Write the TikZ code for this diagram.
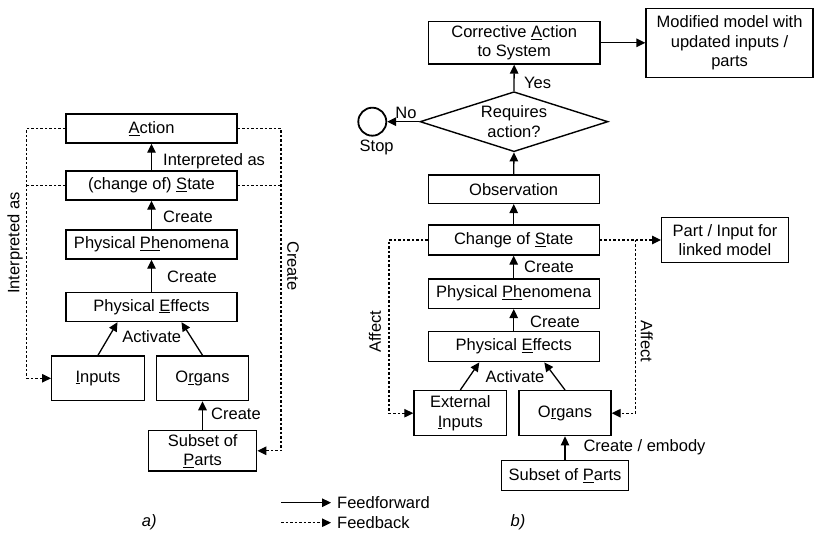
\documentclass[tikz,border=0pt]{standalone}
\usepackage{fontspec}
\setmainfont{Liberation Sans}
\usetikzlibrary{arrows.meta,shapes.geometric}
\newcommand{\ulc}[1]{\underline{#1}}
\begin{document}
\begin{tikzpicture}[x=1pt,y=-1pt,
  font=\fontsize{16.5}{19.5}\selectfont,
  box/.style={draw,line width=1.4pt,rectangle,inner sep=0pt,align=center},
  lbl/.style={inner sep=1pt},
  ff/.style={line width=1.3pt,-{Triangle[length=9pt,width=8.5pt]}},
  fbline/.style={line width=1.2pt,dash pattern=on 2.5pt off 2pt},
  fb/.style={fbline,-{Triangle[length=9pt,width=8.5pt]}}]
\fill[white] (0,0) rectangle (815,534);
\useasboundingbox (0,0) rectangle (815,534);

% ---------- a) ----------
\node[box,minimum width=171pt,minimum height=29pt] (act) at (151.5,128.5) {\ulc{A}ction};
\node[box,minimum width=171pt,minimum height=29pt] (st) at (151.5,185.5) {(change of) \ulc{S}tate};
\node[box,minimum width=171pt,minimum height=29pt] (ph) at (151.5,244.5) {Physical \ulc{Ph}enomena};
\node[box,minimum width=171pt,minimum height=29pt] (ef) at (151.5,307) {Physical \ulc{E}ffects};
\node[box,minimum width=92.6pt,minimum height=44.7pt] (inp) at (98,378.3) {\ulc{I}nputs};
\node[box,minimum width=91.6pt,minimum height=44.7pt] (org) at (202.5,378.3) {O\ulc{r}gans};
\node[box,minimum width=108pt,minimum height=40.3pt] (sub) at (202.7,450.8) {Subset of\\\ulc{P}arts};

\draw[ff] (st.north) -- (act.south);
\draw[ff] (ph.north) -- (st.south);
\draw[ff] (ef.north) -- (ph.south);
\draw[ff] (inp.north) -- ([xshift=-34pt]ef.south);
\draw[ff] (org.north) -- ([xshift=30pt]ef.south);
\draw[ff] (sub.north -| org.south) -- (org.south);

\node[lbl,anchor=west] at (162,161) {Interpreted as};
\node[lbl,anchor=west] at (162,217) {Create};
\node[lbl,anchor=west] at (166,277) {Create};
\node[lbl] at (151.7,336.7) {Activate};
\node[lbl,anchor=west] at (210,414) {Create};

\coordinate (L) at (26.7,378.3);
\coordinate (R) at (281,450.8);
\draw[fb] (act.west) -| (L) -- (inp.west);
\draw[fbline] (st.west) -- (st.west -| L);
\draw[fb] (act.east) -| (R) -- (sub.east);
\draw[fbline] (st.east) -- (st.east -| R);
\node[lbl,rotate=90] at (15,243) {Interpreted as};
\node[lbl,rotate=-90] at (293,266) {Create};

% ---------- b) ----------
\node[box,minimum width=171.7pt,minimum height=42.3pt] (ca) at (514.2,42.8) {Corrective \ulc{A}ction\\to System};
\node[box,minimum width=167pt,minimum height=69pt] (mod) at (729.6,42.8) {Modified model with\\updated inputs /\\parts};
\node[draw,line width=1.4pt,diamond,aspect=3.13,minimum width=188pt,minimum height=60pt,inner sep=0pt] (dia) at (514,121.7) {};
\node[align=center,inner sep=0pt] at (dia.center) {Requires\\action?};
\node[draw,line width=1.8pt,circle,minimum size=28pt,inner sep=0pt] (stop) at (372.3,121.7) {};
\node[box,minimum width=171pt,minimum height=28.3pt] (obs) at (513.7,189.2) {Observation};
\node[box,minimum width=171pt,minimum height=30pt] (cs) at (513.7,240) {Change of \ulc{S}tate};
\node[box,minimum width=171pt,minimum height=29.3pt] (ph2) at (513.7,293.7) {Physical \ulc{Ph}enomena};
\node[box,minimum width=171pt,minimum height=30pt] (ef2) at (513.7,346.7) {Physical \ulc{E}ffects};
\node[box,minimum width=126.6pt,minimum height=44.6pt] (pil) at (725,240) {Part / Input for\\linked model};
\node[box,minimum width=92.7pt,minimum height=45pt] (ext) at (460.3,413.2) {External\\\ulc{I}nputs};
\node[box,minimum width=92pt,minimum height=45pt] (org2) at (565,413.2) {O\ulc{r}gans};
\node[box,minimum width=126.6pt,minimum height=30pt] (sub2) at (565,475.7) {Subset of \ulc{P}arts};

\draw[ff] (ca.east) -- (mod.west);
\draw[ff] (dia.north) -- (ca.south);
\draw[ff] (dia.west) -- (stop.east);
\draw[ff] (obs.north) -- (dia.south);
\draw[ff] (cs.north) -- (obs.south);
\draw[ff] (ph2.north) -- (cs.south);
\draw[ff] (ef2.north) -- (ph2.south);
\draw[ff] (ext.north) -- ([xshift=-34.4pt]ef2.south);
\draw[ff] (org2.north) -- ([xshift=30.6pt]ef2.south);
\draw[ff] (sub2.north) -- (org2.south);

\node[lbl] at (406,113) {No};
\node[lbl,anchor=west] at (523,83) {Yes};
\node[lbl] at (376.7,147) {Stop};
\node[lbl,anchor=west] at (523,267) {Create};
\node[lbl,anchor=west] at (529,321.7) {Create};
\node[lbl] at (515,376.7) {Activate};
\node[lbl,anchor=west] at (582.3,447.7) {Create / embody};

\coordinate (L2) at (389,413.2);
\coordinate (R2) at (635.7,413.2);
\draw[fb] (cs.east) -- (pil.west);
\draw[fb] (cs.west) -| (L2) -- (ext.west);
\draw[fb] (cs.east -| R2) -- (R2) -- (org2.east);
\node[lbl,rotate=90] at (375,331.5) {Affect};
\node[lbl,rotate=-90] at (646.7,341.5) {Affect};

% ---------- legend ----------
\node[lbl,anchor=west] (fft) at (336,502.7) {Feedforward};
\node[lbl,anchor=west] (fbt) at (336,522.7) {Feedback};
\coordinate (ffs) at (281,502.7);
\coordinate (fbs) at (281,522.7);
\draw[ff] (ffs) -- ([xshift=-5pt]fft.west);
\draw[fb] (fbs) -- ([xshift=-5pt]fbt.west);
\node[lbl] at (149.3,522.7) {\itshape a)};
\node[lbl] at (518,522.7) {\itshape b)};
\end{tikzpicture}
\end{document}
